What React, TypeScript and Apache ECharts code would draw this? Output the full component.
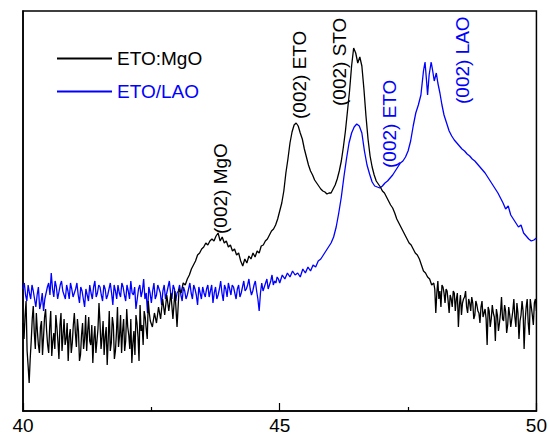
import React, { useEffect, useRef } from "react";
import * as echarts from "echarts";

// 2-theta (deg) / intensity (a.u.) pairs
const etoMgO: [number, number][] = [
  [40.0, 88], [40.04, 95], [40.08, 60], [40.12, 28], [40.16, 70], [40.2, 105], [40.24, 62], [40.28, 80],
  [40.32, 58], [40.36, 90], [40.4, 74], [40.44, 102], [40.48, 66], [40.52, 84], [40.56, 55], [40.6, 78],
  [40.64, 96], [40.68, 70], [40.72, 86], [40.76, 60], [40.8, 92], [40.84, 72], [40.88, 50], [40.92, 82],
  [40.96, 68], [41.0, 98], [41.04, 64], [41.08, 80], [41.12, 56], [41.16, 88], [41.2, 72], [41.24, 60],
  [41.28, 94], [41.32, 66], [41.36, 48], [41.4, 85], [41.44, 70], [41.48, 108], [41.52, 62], [41.56, 90],
  [41.6, 74], [41.64, 46], [41.68, 100], [41.72, 68], [41.76, 86], [41.8, 60], [41.84, 104], [41.88, 75],
  [41.92, 58], [41.96, 92], [42.0, 70], [42.04, 84], [42.08, 62], [42.12, 48], [42.16, 80], [42.2, 96],
  [42.24, 74], [42.28, 106], [42.32, 86], [42.36, 100], [42.4, 82], [42.44, 110], [42.48, 90],
  [42.52, 84], [42.56, 98], [42.6, 88], [42.64, 104], [42.68, 92], [42.72, 112], [42.76, 96], [42.8, 116],
  [42.84, 100], [42.88, 118], [42.92, 92], [42.96, 120], [43.0, 84], [43.04, 122], [43.08, 118], [43.12, 128],
  [43.16, 126], [43.2, 132], [43.24, 136], [43.28, 142], [43.32, 146], [43.36, 150], [43.4, 156], [43.44, 158],
  [43.48, 162], [43.52, 164], [43.56, 168], [43.6, 166], [43.64, 170], [43.68, 172], [43.72, 170], [43.76, 175],
  [43.8, 178], [43.84, 170], [43.88, 174], [43.92, 168], [43.96, 170], [44.0, 164], [44.04, 166], [44.08, 160],
  [44.12, 162], [44.16, 156], [44.2, 158], [44.24, 150], [44.28, 145], [44.32, 152], [44.36, 148], [44.4, 155],
  [44.44, 152], [44.48, 158], [44.52, 154], [44.56, 160], [44.6, 158], [44.64, 165], [44.68, 166], [44.72, 170],
  [44.76, 172], [44.8, 176], [44.84, 180], [44.88, 182], [44.92, 186], [44.96, 192], [45.0, 200], [45.04, 208],
  [45.08, 220], [45.12, 238], [45.16, 252], [45.2, 268], [45.24, 279], [45.28, 286], [45.32, 288], [45.36, 285],
  [45.4, 278], [45.44, 272], [45.48, 262], [45.52, 254], [45.56, 246], [45.6, 240], [45.64, 236], [45.68, 231],
  [45.72, 228], [45.76, 225], [45.8, 222], [45.84, 220], [45.88, 219], [45.92, 217], [45.96, 218], [46.0, 218],
  [46.04, 222], [46.08, 226], [46.12, 232], [46.16, 240], [46.2, 250], [46.24, 264], [46.28, 280], [46.32, 300],
  [46.36, 320], [46.4, 345], [46.44, 363], [46.48, 358], [46.52, 348], [46.56, 354], [46.6, 345], [46.64, 322],
  [46.68, 295], [46.72, 272], [46.76, 255], [46.8, 244], [46.84, 236], [46.88, 230], [46.92, 227], [46.96, 224],
  [47.0, 220], [47.04, 218], [47.08, 214], [47.12, 210], [47.16, 206], [47.2, 203], [47.24, 198], [47.28, 192],
  [47.32, 188], [47.36, 184], [47.4, 180], [47.44, 176], [47.48, 172], [47.52, 168], [47.56, 166], [47.6, 162],
  [47.64, 158], [47.68, 156], [47.72, 152], [47.76, 146], [47.8, 140], [47.84, 138], [47.88, 134], [47.92, 132],
  [47.96, 126], [48.0, 128], [48.04, 98], [48.08, 130], [48.12, 120], [48.16, 126], [48.2, 118], [48.24, 122],
  [48.28, 110], [48.32, 116], [48.36, 104], [48.4, 118], [48.44, 112], [48.48, 84], [48.52, 116], [48.56, 108],
  [48.6, 114], [48.64, 104], [48.68, 112], [48.72, 100], [48.76, 108], [48.8, 96], [48.84, 106], [48.88, 98],
  [48.92, 104], [48.96, 94], [49.0, 102], [49.04, 66], [49.08, 100], [49.12, 92], [49.16, 98], [49.2, 70],
  [49.24, 96], [49.28, 88], [49.32, 114], [49.36, 90], [49.4, 100], [49.44, 86], [49.48, 96], [49.52, 92],
  [49.56, 112], [49.6, 84], [49.64, 98], [49.68, 90], [49.72, 110], [49.76, 62], [49.8, 104], [49.84, 88],
  [49.88, 112], [49.92, 96], [49.96, 108], [50.0, 100],
];

// extra readings between the ones above, in the noisy stretches
const etoMgOFill: [number, number][] = [
  [40.02, 72], [40.06, 110], [40.1, 45], [40.14, 52], [40.18, 92], [40.22, 78], [40.26, 98], [40.3, 66],
  [40.34, 84], [40.38, 56], [40.42, 94], [40.46, 80], [40.5, 58], [40.54, 100], [40.58, 70], [40.62, 62],
  [40.66, 84], [40.7, 52], [40.74, 98], [40.78, 76], [40.82, 66], [40.86, 88], [40.9, 74], [40.94, 58],
  [40.98, 86], [41.02, 78], [41.06, 92], [41.1, 50], [41.14, 76], [41.18, 62], [41.22, 96], [41.26, 80],
  [41.3, 70], [41.34, 86], [41.38, 72], [41.42, 58], [41.46, 82], [41.5, 88], [41.54, 74], [41.58, 56],
  [41.62, 84], [41.66, 72], [41.7, 60], [41.74, 94], [41.78, 52], [41.82, 78], [41.86, 64], [41.9, 96],
  [41.94, 80], [41.98, 60], [42.02, 102], [42.06, 76], [42.1, 92], [42.14, 68], [42.18, 56], [42.22, 88],
  [42.26, 50], [42.3, 80], [42.34, 66], [42.38, 94], [42.42, 72], [42.46, 98],
  [48.02, 122], [48.06, 118], [48.1, 112], [48.14, 104], [48.18, 124], [48.22, 108], [48.26, 120], [48.3, 98],
  [48.34, 112], [48.38, 120], [48.42, 100], [48.46, 118], [48.5, 106], [48.54, 96], [48.58, 112], [48.62, 120],
  [48.66, 98], [48.7, 108], [48.74, 114], [48.78, 92], [48.82, 110], [48.86, 100], [48.9, 88], [48.94, 110],
  [48.98, 98], [49.02, 92], [49.06, 104], [49.1, 84], [49.14, 106], [49.18, 94], [49.22, 102], [49.26, 80],
  [49.3, 98], [49.34, 92], [49.38, 106], [49.42, 78], [49.46, 104], [49.5, 84], [49.54, 100], [49.58, 94],
  [49.62, 108], [49.66, 72], [49.7, 96], [49.74, 100], [49.78, 90], [49.82, 112], [49.86, 76], [49.9, 104],
  [49.94, 86], [49.98, 112],
];

const etoLAO: [number, number][] = [
  [40.0, 122], [40.05, 116], [40.1, 126], [40.15, 112], [40.2, 120], [40.25, 104], [40.3, 124], [40.35, 108],
  [40.4, 100], [40.45, 118], [40.5, 128], [40.55, 138], [40.6, 114], [40.65, 124], [40.7, 119], [40.75, 130],
  [40.8, 116], [40.85, 126], [40.9, 112], [40.95, 122], [41.0, 118], [41.05, 128], [41.1, 108], [41.15, 120],
  [41.2, 104], [41.25, 116], [41.3, 126], [41.35, 112], [41.4, 130], [41.45, 118], [41.5, 124], [41.55, 110],
  [41.6, 122], [41.65, 116], [41.7, 128], [41.75, 106], [41.8, 120], [41.85, 126], [41.9, 114], [41.95, 124],
  [42.0, 110], [42.05, 120], [42.1, 130], [42.15, 116], [42.2, 102], [42.25, 122], [42.3, 114], [42.35, 132],
  [42.4, 118], [42.45, 124], [42.5, 108], [42.55, 128], [42.6, 116], [42.65, 122], [42.7, 106], [42.75, 126],
  [42.8, 118], [42.85, 130], [42.9, 112], [42.95, 122], [43.0, 118], [43.05, 126], [43.1, 110], [43.15, 120],
  [43.2, 116], [43.25, 128], [43.3, 112], [43.35, 122], [43.4, 106], [43.45, 118], [43.5, 124], [43.55, 114],
  [43.6, 126], [43.65, 120], [43.7, 108], [43.75, 124], [43.8, 116], [43.85, 130], [43.9, 110], [43.95, 122],
  [44.0, 128], [44.05, 116], [44.1, 124], [44.15, 112], [44.2, 126], [44.25, 118], [44.3, 130], [44.35, 122],
  [44.4, 132], [44.45, 116], [44.5, 126], [44.55, 120], [44.6, 100], [44.65, 128], [44.7, 124], [44.75, 132],
  [44.8, 126], [44.85, 136], [44.9, 130], [44.95, 134], [45.0, 128], [45.05, 136], [45.1, 132], [45.15, 138],
  [45.2, 134], [45.25, 140], [45.3, 136], [45.35, 138], [45.4, 134], [45.45, 142], [45.5, 138], [45.55, 144],
  [45.6, 140], [45.65, 146], [45.7, 144], [45.75, 150], [45.8, 152], [45.85, 156], [45.9, 160], [45.95, 164],
  [46.0, 168], [46.05, 174], [46.1, 184], [46.15, 198], [46.2, 214], [46.25, 234], [46.3, 252], [46.35, 268],
  [46.4, 278], [46.45, 284], [46.5, 287], [46.55, 285], [46.6, 278], [46.65, 260], [46.7, 246], [46.75, 237],
  [46.8, 229], [46.85, 225], [46.9, 224], [46.95, 223], [47.0, 225], [47.05, 228], [47.1, 230], [47.15, 233],
  [47.2, 236], [47.25, 240], [47.3, 244], [47.35, 248], [47.4, 250], [47.45, 254], [47.5, 260], [47.55, 270],
  [47.6, 285], [47.65, 298], [47.7, 306], [47.75, 316], [47.8, 340], [47.83, 349], [47.86, 330], [47.88, 316],
  [47.91, 336], [47.95, 349], [47.98, 340], [48.01, 330], [48.05, 338], [48.08, 328], [48.12, 318], [48.16, 306],
  [48.2, 296], [48.25, 288], [48.3, 280], [48.35, 275], [48.4, 271], [48.45, 268], [48.5, 265], [48.55, 262],
  [48.6, 260], [48.65, 257], [48.7, 255], [48.75, 252], [48.8, 250], [48.85, 247], [48.9, 244], [48.95, 241],
  [49.0, 238], [49.05, 234], [49.1, 230], [49.15, 226], [49.2, 222], [49.25, 218], [49.3, 213], [49.35, 208],
  [49.4, 202], [49.45, 205], [49.5, 196], [49.55, 192], [49.6, 188], [49.65, 184], [49.7, 186], [49.75, 178],
  [49.8, 175], [49.85, 172], [49.9, 170], [49.95, 171], [50.0, 173],
];

const etoLAOFill: [number, number][] = [
  [40.025, 128], [40.075, 110], [40.125, 118], [40.175, 126], [40.225, 112], [40.275, 116], [40.325, 102],
  [40.375, 118], [40.425, 112], [40.475, 124], [40.525, 116], [40.575, 122], [40.625, 130], [40.675, 112],
  [40.725, 126], [40.775, 120], [40.825, 112], [40.875, 120], [40.925, 128], [40.975, 114], [41.025, 122],
  [41.075, 116], [41.125, 124], [41.175, 112], [41.225, 122], [41.275, 110], [41.325, 118], [41.375, 124],
  [41.425, 114], [41.475, 126], [41.525, 116], [41.575, 126], [41.625, 112], [41.675, 122], [41.725, 118],
  [41.775, 126], [41.825, 112], [41.875, 118], [41.925, 128], [41.975, 116], [42.025, 126], [42.075, 112],
  [42.125, 118], [42.175, 124], [42.225, 112], [42.275, 126], [42.325, 120], [42.375, 112], [42.425, 98],
  [42.475, 118], [42.525, 120], [42.575, 112], [42.625, 126], [42.675, 118], [42.725, 120], [42.775, 112],
  [42.825, 124], [42.875, 118], [42.925, 126], [42.975, 110], [43.025, 120], [43.075, 116], [43.125, 124],
  [43.175, 112], [43.225, 122], [43.275, 118], [43.325, 126], [43.375, 116], [43.425, 124], [43.475, 112],
  [43.525, 118], [43.575, 122], [43.625, 114], [43.675, 126], [43.725, 118], [43.775, 112], [43.825, 122],
  [43.875, 118], [43.925, 126], [43.975, 114], [44.025, 122], [44.075, 126], [44.125, 118], [44.175, 122],
  [44.225, 114], [44.275, 124], [44.325, 120], [44.375, 126], [44.425, 122], [44.475, 120], [44.525, 130],
  [44.575, 112], [44.625, 118], [44.675, 120], [44.725, 128], [44.775, 122], [44.825, 130], [44.875, 126],
  [44.925, 128], [44.975, 132],
];

const xTicks = [40, 45, 50];
const seriesNames = ["ETO:MgO", "ETO/LAO"];
const seriesColors = ["#000000", "#0000ff"];
const peakLabels = ["(002) MgO", "(002) ETO", "(002) STO", "(002) ETO", "(002) LAO"];
const peakLabelColors = ["#000000", "#000000", "#000000", "#0000ff", "#0000ff"];

const merge = (a: [number, number][], b: [number, number][]) =>
  [...a, ...b].sort((p, q) => p[0] - q[0]);

export default function App() {
  const ref = useRef<HTMLDivElement>(null);
  useEffect(() => {
    if (!ref.current) return;
    const chart = echarts.init(ref.current, undefined, { renderer: "svg" });
    const font = "'Liberation Sans', Arial, sans-serif";
    const labelPos = [
      [220, 234],
      [299, 119],
      [339, 106],
      [389, 168],
      [462, 104],
    ];
    chart.setOption({
      animation: false,
      backgroundColor: "#ffffff",
      grid: {
        left: 23,
        right: 13,
        top: 11,
        bottom: 30,
        show: true,
        borderColor: "#000",
        borderWidth: 1.5,
        backgroundColor: "transparent",
      },
      legend: {
        orient: "vertical",
        left: 52,
        top: 44,
        itemWidth: 55,
        itemHeight: 2,
        itemGap: 14,
        icon: "rect",
        textStyle: { fontFamily: font, fontSize: 19 },
        data: seriesNames.map((n, i) => ({ name: n, textStyle: { color: seriesColors[i] } })),
      },
      xAxis: {
        type: "value",
        min: xTicks[0],
        max: xTicks[xTicks.length - 1],
        interval: 5,
        axisLine: { show: true, lineStyle: { color: "#000", width: 1.5 } },
        axisTick: { show: true, inside: true, length: 8, lineStyle: { color: "#000", width: 1.2 } },
        minorTick: { show: true, splitNumber: 2, length: 4, lineStyle: { color: "#000", width: 1.2 } },
        axisLabel: { color: "#000", fontSize: 19, fontFamily: font, margin: 5 },
        splitLine: { show: false },
      },
      yAxis: {
        type: "value",
        min: 0,
        max: 400,
        axisLine: { show: true, lineStyle: { color: "#000", width: 1.5 } },
        axisTick: { show: false },
        axisLabel: { show: false },
        splitLine: { show: false },
      },
      series: [
        {
          name: seriesNames[0],
          type: "line",
          data: merge(etoMgO, etoMgOFill),
          showSymbol: false,
          symbol: "none",
          z: 3,
          lineStyle: { color: seriesColors[0], width: 1.3 },
          itemStyle: { color: seriesColors[0] },
        },
        {
          name: seriesNames[1],
          type: "line",
          data: merge(etoLAO, etoLAOFill),
          showSymbol: false,
          symbol: "none",
          z: 2,
          lineStyle: { color: seriesColors[1], width: 1.3 },
          itemStyle: { color: seriesColors[1] },
        },
      ],
      graphic: peakLabels.map((t, i) => ({
        type: "text",
        x: labelPos[i][0],
        y: labelPos[i][1],
        rotation: Math.PI / 2,
        style: {
          text: t,
          fill: peakLabelColors[i],
          font: `19px ${font}`,
          textAlign: "left",
          textVerticalAlign: "middle",
        },
      })),
    });
    return () => chart.dispose();
  }, []);
  return (
    <div
      ref={ref}
      style={{ position: "absolute", left: 0, top: 0, width: 550, height: 441 }}
    />
  );
}
